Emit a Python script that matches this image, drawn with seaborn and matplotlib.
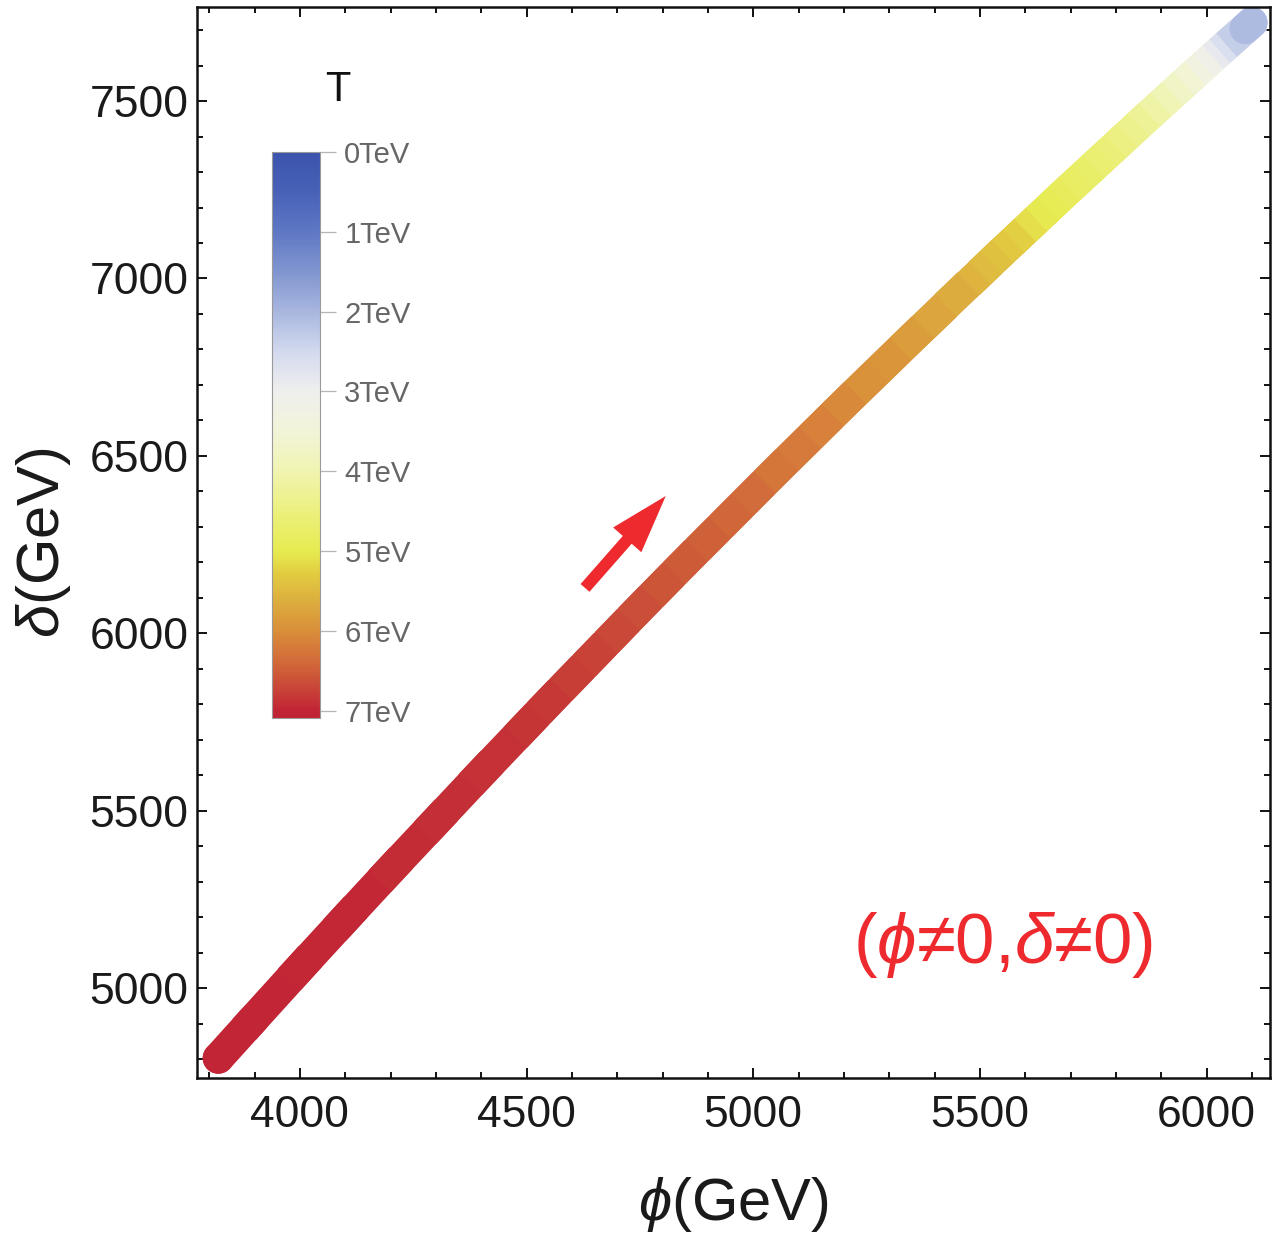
import numpy as np
import pandas as pd
import matplotlib
matplotlib.use("Agg")
import matplotlib.pyplot as plt
import seaborn as sns
from matplotlib.collections import LineCollection
from matplotlib.colors import LinearSegmentedColormap, Normalize
from matplotlib.ticker import MultipleLocator

# ---- data ----
phi = [3820, 3900, 4000, 4100, 4200, 4300, 4400, 4500, 4550, 4600,
       4650, 4700, 4750, 4800, 4850, 4900, 4950, 5000, 5050, 5100,
       5150, 5200, 5250, 5300, 5350, 5400, 5450, 5500, 5525, 5550,
       5575, 5600, 5625, 5650, 5675, 5700, 5725, 5750, 5775, 5800,
       5825, 5850, 5875, 5900, 5925, 5950, 5975, 6000, 6020, 6040,
       6055, 6070, 6085, 6100]
delta = [4803, 4916, 5057, 5196, 5334, 5470, 5606, 5740, 5807, 5873,
         5939, 6005, 6071, 6136, 6201, 6265, 6329, 6393, 6457, 6520,
         6583, 6646, 6708, 6770, 6832, 6893, 6955, 7015, 7046, 7076,
         7106, 7136, 7166, 7196, 7226, 7256, 7285, 7315, 7344, 7374,
         7403, 7433, 7462, 7491, 7520, 7549, 7578, 7607, 7630, 7653,
         7670, 7687, 7704, 7721]
T_TeV = [7.00, 6.99, 6.98, 6.97, 6.95, 6.93, 6.90, 6.86, 6.83, 6.80,
         6.76, 6.72, 6.67, 6.62, 6.56, 6.50, 6.44, 6.38, 6.31, 6.24,
         6.17, 6.10, 6.02, 5.94, 5.86, 5.78, 5.68, 5.58, 5.51, 5.44,
         5.37, 5.30, 5.17, 5.05, 4.97, 4.90, 4.82, 4.75, 4.68, 4.60,
         4.50, 4.40, 4.30, 4.20, 4.03, 3.85, 3.65, 3.45, 3.22, 3.00,
         2.75, 2.50, 2.20, 1.90]

x_ticks = [4000, 4500, 5000, 5500, 6000]
y_ticks = [5000, 5500, 6000, 6500, 7000, 7500]
cbar_ticks = [0, 1, 2, 3, 4, 5, 6, 7]
cbar_labels = ["0TeV", "1TeV", "2TeV", "3TeV", "4TeV", "5TeV", "6TeV", "7TeV"]

arrow_tail = (4629, 6128)
arrow_head = (4807, 6387)
label_pos = (5551, 5122)

# TemperatureMap-like colour stops (T in TeV -> colour)
cmap_T = [0.0, 0.5, 1.0, 1.5, 2.0, 2.5, 3.0, 3.5, 4.0, 4.5, 5.0,
          5.3, 5.6, 6.0, 6.3, 6.6, 7.0, 7.09]
cmap_hex = ["#3b53ad", "#4862b8", "#5f78c4", "#8196d0", "#a9b7df", "#d3daee",
            "#efefee", "#f2f4d8", "#f0f4b0", "#ecf07e", "#e6eb50",
            "#e2cb40", "#ddb03e", "#d98f3a", "#d4733a", "#cc5438", "#c22535", "#c02234"]

VMAX = 7.09
LW = 22.5

# ---- style ----
sns.set_theme(style="ticks")
plt.rcParams["font.family"] = ["Liberation Sans", "DejaVu Sans"]
plt.rcParams["mathtext.fontset"] = "custom"
plt.rcParams["mathtext.rm"] = "Liberation Sans"
plt.rcParams["mathtext.it"] = "Liberation Sans:italic"
plt.rcParams["mathtext.fallback"] = "stixsans"

cmap = LinearSegmentedColormap.from_list(
    "tempmap", list(zip([t / VMAX for t in cmap_T], cmap_hex)))
norm = Normalize(vmin=0, vmax=VMAX)

df = pd.DataFrame({"phi": phi, "delta": delta, "T": T_TeV})

fig = plt.figure(figsize=(12.8, 12.36), dpi=100)
ax = fig.add_axes([197 / 1280, 1 - 1078 / 1236, (1270 - 197) / 1280, (1078 - 7) / 1236])

# thick colour-coded path
pts = df[["phi", "delta"]].to_numpy()
segs = np.stack([pts[:-1], pts[1:]], axis=1)
seg_T = (df["T"].to_numpy()[:-1] + df["T"].to_numpy()[1:]) / 2

def add_segments(seg_list, t_list, cap, z):
    lc = LineCollection(seg_list, cmap=cmap, norm=norm, linewidths=LW,
                        capstyle=cap, joinstyle="miter", zorder=z)
    lc.set_array(np.asarray(t_list))
    ax.add_collection(lc)

add_segments(segs[:1], seg_T[:1], "round", 2.0)
add_segments(segs[1:-1], seg_T[1:-1], "projecting", 2.1)
add_segments(segs[-1:], seg_T[-1:], "round", 2.2)

# round end disks at the first and last points
sns.scatterplot(data=df.iloc[[0, -1]], x="phi", y="delta", hue="T", palette=cmap,
                hue_norm=norm, s=LW ** 2, linewidth=0,
                legend=False, ax=ax, zorder=1)

ax.set_xlim(3773, 6140)
ax.set_ylim(4747, 7765)
ax.set_xticks(x_ticks)
ax.set_yticks(y_ticks)
ax.xaxis.set_minor_locator(MultipleLocator(100))
ax.yaxis.set_minor_locator(MultipleLocator(100))
ax.tick_params(which="both", direction="in", top=True, right=True,
               color="#111111", width=1.4)
ax.tick_params(which="major", length=7.5, labelsize=32, labelcolor="#1a1a1a")
ax.tick_params(axis="x", which="major", pad=12)
ax.tick_params(axis="y", which="major", pad=6)
ax.tick_params(which="minor", length=4)
for sp in ax.spines.values():
    sp.set_linewidth(1.8)
    sp.set_color("#111111")

ax.set_xlabel(r"$\phi$(GeV)", fontsize=43, color="#1a1a1a", labelpad=28)
ax.set_ylabel(r"$\delta$(GeV)", fontsize=43, color="#1a1a1a", labelpad=12)

# red arrow
ax.annotate("", xy=arrow_head, xytext=arrow_tail,
            arrowprops=dict(width=8.5, headwidth=27, headlength=42,
                            facecolor="#ee2a2e", edgecolor="none", shrink=0))

# annotation text
ax.text(label_pos[0], label_pos[1], "($\\phi$≠0,$\\delta$≠0)", fontsize=51,
        color="#ee2a2e", ha="center", va="center")

# colour bar
cax = fig.add_axes([272 / 1280, 1 - 718 / 1236, 48 / 1280, 566 / 1236])
sm = plt.cm.ScalarMappable(norm=norm, cmap=cmap)
cb = fig.colorbar(sm, cax=cax, ticks=cbar_ticks)
cb.ax.invert_yaxis()
cb.set_ticklabels(cbar_labels)
cb.ax.tick_params(direction="out", length=11.5, width=0.9, color="#b5b5b5",
                  labelsize=21, labelcolor="#666666", pad=6)
cb.outline.set_edgecolor("#9a9a9a")
cb.outline.set_linewidth(0.8)
fig.text(338 / 1280, 1 - 90 / 1236, "T", fontsize=30, color="#111111",
         ha="center", va="center")

fig.savefig("out.png", dpi=100)
